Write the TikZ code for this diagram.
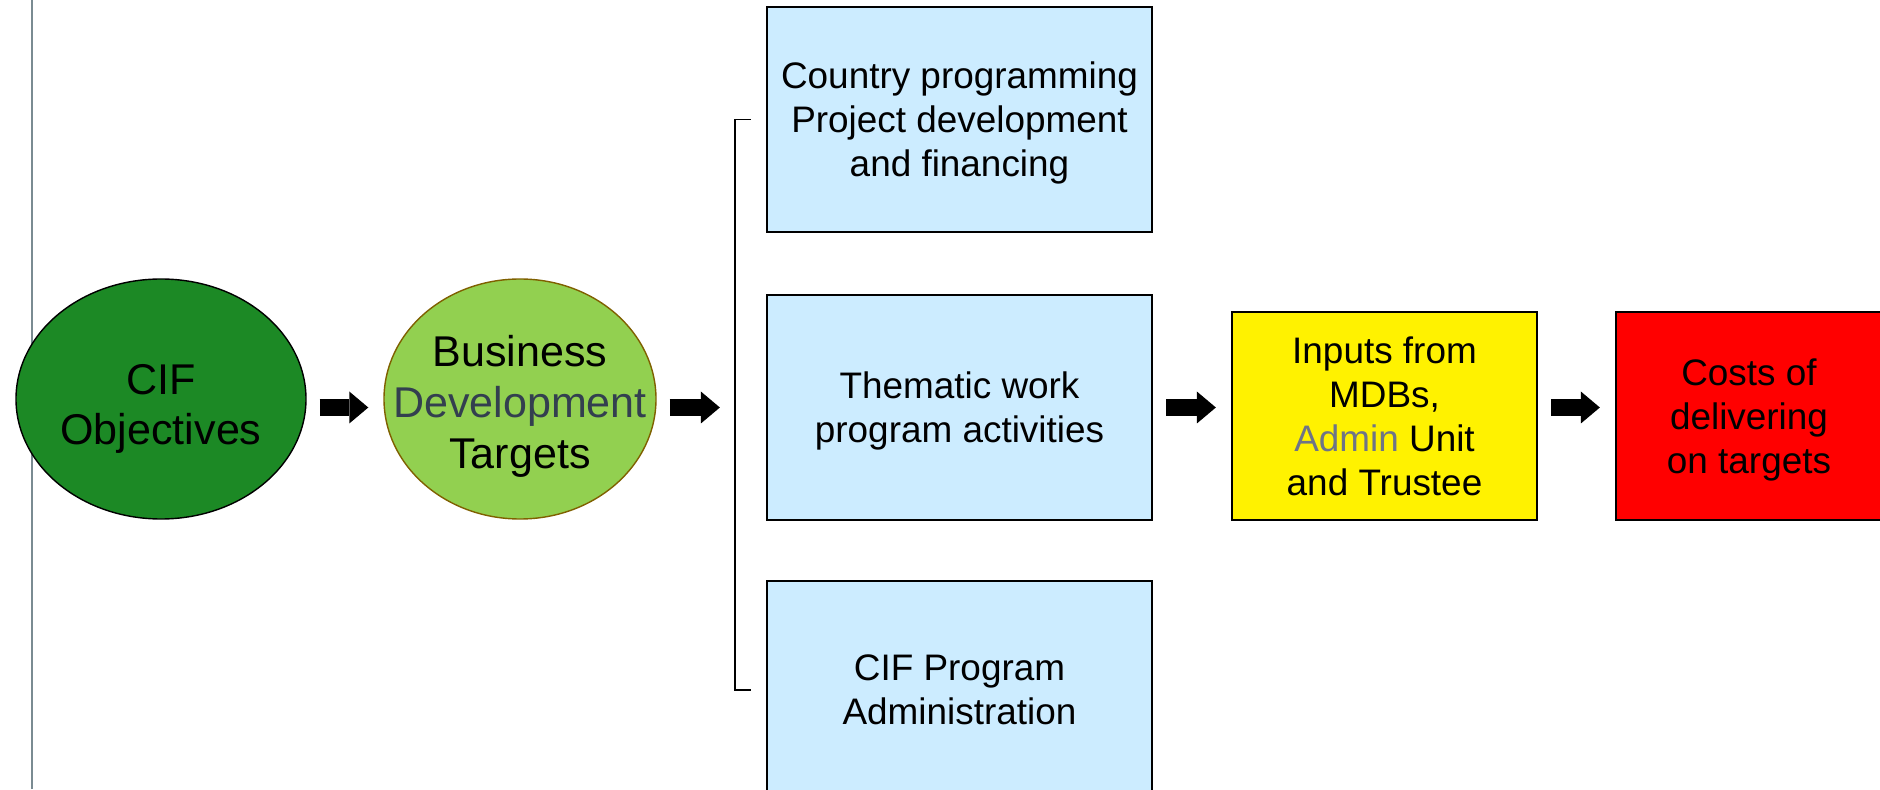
\documentclass[tikz,border=0pt]{standalone}
\usepackage{fontspec}
\setmainfont{Liberation Sans}
\usepackage{xcolor}
\usepackage{tikz}
\usetikzlibrary{arrows.meta,positioning,shapes.geometric}

\definecolor{cifgreen}{RGB}{28,137,37}
\definecolor{bizgreen}{RGB}{146,208,80}
\definecolor{bizedge}{RGB}{127,96,0}
\definecolor{devslate}{RGB}{51,63,79}
\definecolor{actblue}{RGB}{204,236,255}
\definecolor{admingray}{RGB}{110,116,135}
\definecolor{rulegray}{RGB}{122,139,146}

\begin{document}
\begin{tikzpicture}[
  goal/.style ={ellipse, draw=black, line width=0.8pt,
                inner xsep=-2cm, inner ysep=-2cm, minimum height=4.8cm,
                text depth=0pt,
                align=center, font=\fontsize{24.5}{29}\selectfont},
  act/.style  ={draw=black, fill=actblue, rectangle, line width=1.3pt,
                minimum height=4.5cm, minimum width=7.7cm, text depth=0pt,
                align=center, font=\fontsize{21}{25}\selectfont},
  res/.style  ={draw=black, rectangle, line width=1.3pt,
                minimum height=4.16cm, text depth=0pt,
                align=center, font=\fontsize{21}{25}\selectfont},
  barr/.style ={line width=0.34cm,
                -{Triangle[length=0.38cm, width=0.64cm, line width=0pt]},
                shorten <=0.26cm, shorten >=0.3cm},
  brk/.style  ={line width=1.1pt}
]
\useasboundingbox (0,0) rectangle (37.6,15.78);

%% ── margin rule ──────────────────────────────────────────────────────
\draw[rulegray, line width=1.1pt] (0.64,0) -- (0.64,15.78);

%% ── objectives and targets ───────────────────────────────────────────
\node[goal, fill=cifgreen, minimum width=5.8cm, text height=1.84cm] (obj)
    at (3.22, 7.8) {CIF\\Objectives};
\node[goal, fill=bizgreen, draw=bizedge, minimum width=5.44cm, text height=2.78cm] (tgt)
    at (10.4, 7.8) {Business\\{\color{devslate}Development}\\Targets};

%% ── activity boxes ───────────────────────────────────────────────────
\node[act] (cpp) at (19.19, 13.39)
    {Country programming\\Project development\\and financing};
\node[act] (thm) at (19.19, 7.63) {Thematic work\\program activities};
\node[act, minimum height=4.36cm] (adm) at (19.19, 1.98)
    {CIF Program\\Administration};

\coordinate (brtop) at ([xshift=-0.62cm]cpp.west);
\coordinate (brbot) at ([xshift=-0.62cm]adm.west);
\draw[brk] ([xshift=0.32cm]brtop) -- (brtop) -- (brbot) -- ([xshift=0.32cm]brbot);
\coordinate (brmid) at (brtop |- thm);

%% ── inputs and costs ─────────────────────────────────────────────────
\node[res, fill=yellow, minimum width=6.1cm] (inp) at (27.69, 7.46)
    {Inputs from\\MDBs,\\{\color{admingray}Admin} Unit\\and Trustee};
\node[res, fill=red, minimum width=5.32cm] (cost) at (34.98, 7.46)
    {Costs of\\delivering\\on targets};

%% ── block arrows ─────────────────────────────────────────────────────
\draw[barr] (obj.east |- thm) -- (tgt.west |- thm);
\draw[barr] (tgt.east |- thm) -- (brmid);
\draw[barr] (thm.east) -- (inp.west |- thm);
\draw[barr] (inp.east |- thm) -- (cost.west |- thm);

\end{tikzpicture}
\end{document}
